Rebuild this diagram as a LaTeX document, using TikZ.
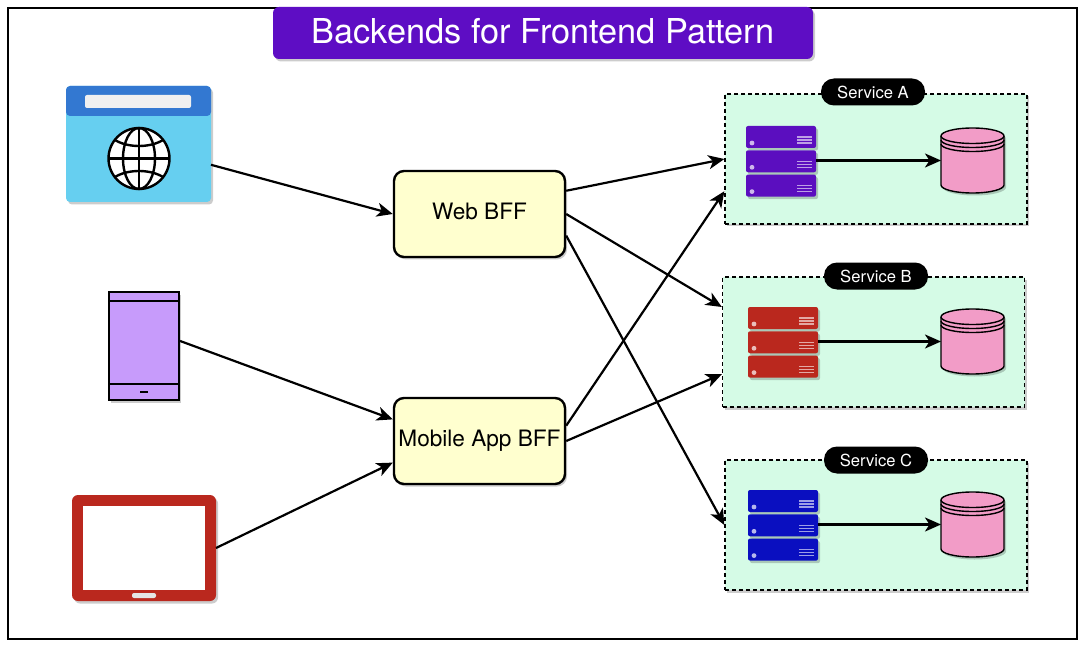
\documentclass[tikz,border=0pt]{standalone}
\usepackage{fontspec}
\setmainfont{TeX Gyre Heros}
\usetikzlibrary{arrows.meta, calc, positioning, shadows}
\definecolor{titlepurple}{RGB}{94,13,196}
\definecolor{svcgreen}{RGB}{213,251,230}
\definecolor{srvpurple}{RGB}{91,14,191}
\definecolor{srvred}{RGB}{186,40,30}
\definecolor{srvblue}{RGB}{10,15,192}
\definecolor{dbpink}{RGB}{242,156,199}
\definecolor{browsertop}{RGB}{51,120,209}
\definecolor{browserbody}{RGB}{102,207,240}
\definecolor{phonelilac}{RGB}{199,155,251}
\definecolor{bffyellow}{RGB}{255,255,207}
\tikzset{
    softshadow/.style={drop shadow={shadow xshift=2pt, shadow yshift=-2.5pt, opacity=0.2, fill=black}},
    flow/.style={-{Stealth[length=16pt, width=14pt, inset=4.5pt]}, line width=2.2pt},
    bff/.style={draw, fill=bffyellow, line width=2.4pt, rounded corners=10pt, minimum width=171pt, minimum height=86pt, inner sep=0pt, text depth=4.5pt, font=\fontsize{22.6}{27}\selectfont, softshadow},
    client/.style={inner sep=0pt, outer sep=0pt},
    svcbox/.style={draw, fill=svcgreen, line width=1.3pt, dash pattern=on 4pt off 3pt, minimum width=302pt, minimum height=130pt, inner sep=0pt, softshadow},
    svclabel/.style={fill=black, text=white, rounded corners=13pt, minimum width=104pt, minimum height=27pt, inner sep=0pt, font=\fontsize{16.6}{20}\selectfont},
    blockbox/.style={inner sep=0pt, outer sep=0pt, minimum width=70pt, minimum height=71pt},
    dbbox/.style={inner sep=0pt, outer sep=0pt, minimum width=63pt, minimum height=65pt}
}
\begin{document}
\begin{tikzpicture}[x=1pt, y=-1pt, >=Stealth]
    \useasboundingbox (0,0) rectangle (1086,652);
    \fill[white] (0,0) rectangle (1086,652);
    % Outer frame
    \draw[line width=2.4pt] (8,8) rectangle (1077,639);

    % Title
    \node (title) [fill=titlepurple, text=white, rounded corners=6pt, minimum width=540pt, minimum height=52pt, inner sep=0pt, text depth=4pt, font=\fontsize{34.3}{40}\selectfont, softshadow] at (543,33) {Backends for Frontend Pattern};

    % Browser
    \node (browser) [client, minimum width=145pt, minimum height=116pt] at (138.5,144) {};
    \fill[browserbody, rounded corners=4pt, softshadow] (66,86) rectangle (211,202);
    \fill[browsertop, rounded corners=4pt] (66,116) -- (66,86) -- (211,86) -- (211,116) -- cycle;
    \fill[black!6, rounded corners=2pt] (85,95) rectangle (191,108);
    \draw[fill=white, line width=2.4pt] (139,158.5) circle (30.5);
    \draw[line width=2.4pt] (139,128) -- (139,189) (108.5,158.5) -- (169.5,158.5);
    \draw[line width=2.4pt] (139,158.5) ellipse (16 and 30.5);
    \draw[line width=2.4pt] (115,140) .. controls (128,148) and (150,148) .. (163,140);
    \draw[line width=2.4pt] (115,177) .. controls (128,169) and (150,169) .. (163,177);

    % Phone
    \node (phone) [client, minimum width=72pt, minimum height=110pt] at (144,346) {};
    \draw[fill=phonelilac, line width=2.6pt, softshadow] (109,292) rectangle (179,400);
    \draw[line width=2.4pt] (109,301) -- (179,301) (109,384) -- (179,384);
    \draw[line width=2.4pt] (140,392) -- (148,392);

    % Tablet
    \node (tablet) [client, minimum width=144pt, minimum height=106pt] at (144,548) {};
    \fill[srvred, rounded corners=6pt, softshadow] (72,495) rectangle (216,601);
    \fill[white] (83,506) rectangle (205,590);
    \fill[black!10, rounded corners=2pt] (132,593) rectangle (156,598);

    % BFF boxes
    \node (webbff) [bff] at (479.5,214) {Web BFF};
    \node (mobilebff) [bff] at (479.5,441) {Mobile App BFF};

    % Services
    \foreach \n/\col/\bx/\by/\lx/\ly/\sx/\sy/\dy in {A/srvpurple/876/159/873/92/746/126/128, B/srvred/873.5/342/876/276/748/307/309, C/srvblue/876/525/876/460/748/490/492} {
        \node (svc\n) [svcbox] at (\bx,\by) {};
        \node (label\n) [svclabel] at (\lx,\ly) {Service \n};
        \node (server\n) [blockbox] at (\sx+35,\sy+34.5) {};
        \node (db\n) [dbbox] at (972.5,\dy+32.5) {};
        % Server rack
        \foreach \u in {0,1,2} {
            \begin{scope}[shift={(\sx,\sy+24.3*\u)}]
                \fill[\col, rounded corners=2pt, softshadow] (0,0) rectangle (70,22);
                \fill[white!70!\col] (6,17) circle (2.4);
                \foreach \l in {11,14,17} {
                    \draw[white!60!\col, line width=1.3pt] (51,\l) -- (66,\l);
                }
            \end{scope}
        }
        % Database
        \begin{scope}[shift={(941,\dy)}]
            \draw[fill=dbpink, line width=1.4pt, softshadow] (0,8) arc[start angle=180, end angle=360, x radius=31.5, y radius=8] -- (63,57) arc[start angle=0, end angle=180, x radius=31.5, y radius=8] -- cycle;
            \draw[line width=1.4pt] (0,8) arc[start angle=180, end angle=0, x radius=31.5, y radius=7.5];
            \draw[line width=1.4pt] (0,12) arc[start angle=180, end angle=0, x radius=31.5, y radius=7.5];
            \draw[line width=1.4pt] (0,16) arc[start angle=180, end angle=0, x radius=31.5, y radius=7.5];
        \end{scope}
        \draw[flow] (server\n.east) -- (db\n.west);
    }

    % Connectors
    \draw[flow] (browser.-16) -- (webbff.west);
    \draw[flow] (phone.8) -- (mobilebff.166);
    \draw[flow] (tablet.east) -- (mobilebff.194);
    \draw[flow] (webbff.15) -- (svcA.west);
    \draw[flow] (webbff.east) -- (svcB.167);
    \draw[flow] (webbff.-14) -- (svcC.west);
    \draw[flow] (mobilebff.10) -- (svcA.192);
    \draw[flow] (mobilebff.east) -- (svcB.192);
\end{tikzpicture}
\end{document}
